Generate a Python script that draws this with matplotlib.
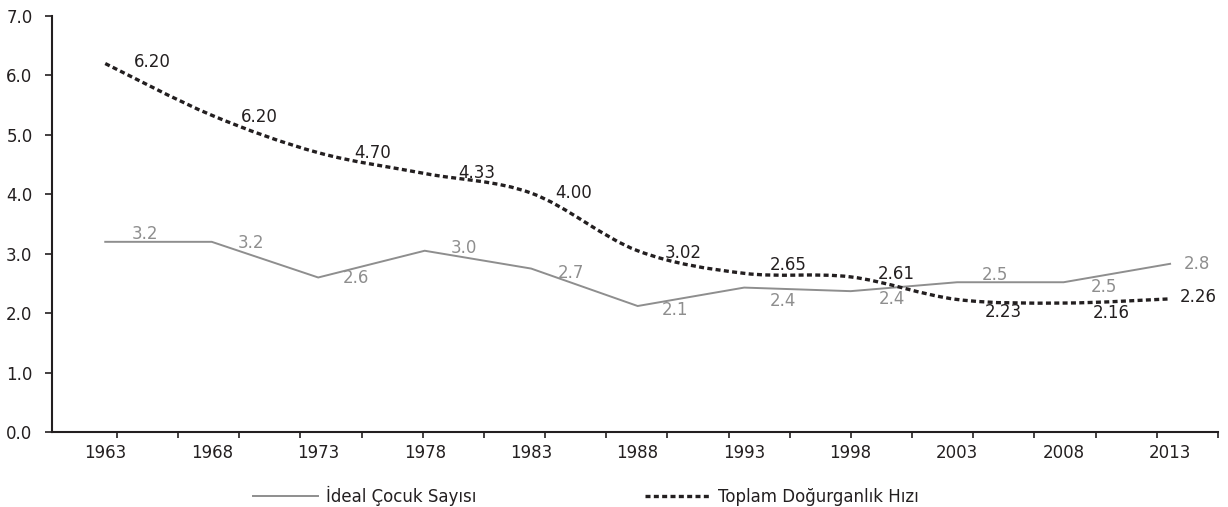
import numpy as np
import matplotlib
matplotlib.use("Agg")
import matplotlib.pyplot as plt
from matplotlib.path import Path
import matplotlib.patches as mpatches

years = [1963, 1968, 1973, 1978, 1983, 1988, 1993, 1998, 2003, 2008, 2013]
ideal = [3.2, 3.2, 2.6, 3.05, 2.75, 2.12, 2.43, 2.37, 2.52, 2.52, 2.83]
ideal_lbl = ["3.2", "3.2", "2.6", "3.0", "2.7", "2.1", "2.4", "2.4", "2.5", "2.5", "2.8"]
tfr = [6.2, 5.33, 4.7, 4.35, 4.02, 3.05, 2.67, 2.61, 2.23, 2.17, 2.24]
tfr_lbl = ["6.20", "6.20", "4.70", "4.33", "4.00", "3.02", "2.65", "2.61", "2.23", "2.16", "2.26"]

# label offsets in pixels (layout only)
ideal_off = [(40, 8), (39, -1), (38, -1), (39, 3), (40, -4), (37, -4),
             (39, -13), (41, -8), (38, 7), (40, -5), (27, 0)]
tfr_off = [(47, 2), (48, -2), (54, 0), (52, 0), (42, 0), (46, -2),
           (44, 8), (46, 3), (46, -13), (48, -10), (28, 2)]

GREY = "#8e8e8e"
DARK = "#231f20"
FS = 12

plt.rcParams["font.family"] = "DejaVu Sans"

fig = plt.figure(figsize=(12.28, 5.07), dpi=100)
ax = fig.add_axes([52/1228, 1-432/507, (1218-52)/1228, (432-16)/507])

xmin, xmax = 1960.5, 2015.25
ax.set_xlim(xmin, xmax)
ax.set_ylim(0, 7)

# grey solid line
ax.plot(years, ideal, color=GREY, lw=1.4, solid_joinstyle="miter",
        label="İdeal Çocuk Sayısı", zorder=3)

# smoothed dashed line (Catmull-Rom -> cubic bezier)
pts = np.column_stack([years, tfr]).astype(float)
ext = np.vstack([pts[0], pts, pts[-1]])
verts = [tuple(pts[0])]
codes = [Path.MOVETO]
for i in range(len(pts) - 1):
    p0, p1, p2, p3 = ext[i], ext[i+1], ext[i+2], ext[i+3]
    c1 = p1 + (p2 - p0) / 6
    c2 = p2 - (p3 - p1) / 6
    verts += [tuple(c1), tuple(c2), tuple(p2)]
    codes += [Path.CURVE4] * 3
patch = mpatches.PathPatch(Path(verts, codes), facecolor="none", edgecolor=DARK,
                           lw=2.4, linestyle=(0, (1.5, 1.0)), capstyle="butt", zorder=4)
ax.add_patch(patch)
ax.plot([], [], color=DARK, lw=2.4, dashes=(1.5, 1.0),
        label="Toplam Doğurganlık Hızı")

for x, y, t, o in zip(years, ideal, ideal_lbl, ideal_off):
    ax.annotate(t, (x, y), xytext=o, textcoords="offset pixels",
                ha="center", va="center", color=GREY, fontsize=FS, zorder=5)
for x, y, t, o in zip(years, tfr, tfr_lbl, tfr_off):
    ax.annotate(t, (x, y), xytext=o, textcoords="offset pixels",
                ha="center", va="center", color=DARK, fontsize=FS, zorder=5)

# axes styling
for s in ["top", "right"]:
    ax.spines[s].set_visible(False)
for s in ["left", "bottom"]:
    ax.spines[s].set_color(DARK)
    ax.spines[s].set_linewidth(1.5)

ax.set_yticks(np.arange(0, 7.01, 1))
ax.set_yticklabels([f"{v:.1f}" for v in np.arange(0, 7.01, 1)])
ax.tick_params(axis="y", length=5, width=1.2, color=DARK, labelsize=FS,
               labelcolor=DARK, pad=9)

ax.set_xticks(years)
ax.set_xticklabels([str(y) for y in years])
ax.tick_params(axis="x", which="major", length=0, labelsize=FS,
               labelcolor=DARK, pad=9)
span = xmax - xmin
ax.set_xticks(np.linspace(xmin + span * 65 / 1166, xmax, 19), minor=True)
ax.tick_params(axis="x", which="minor", length=4, width=1.2, color=DARK)

fig.legend(loc="center left", bbox_to_anchor=(253/1228, 1-496/507),
           frameon=False, ncol=2, fontsize=FS, borderpad=0, borderaxespad=0,
           handlelength=3.9, handletextpad=0.5, columnspacing=10.1,
           labelcolor=DARK)

fig.savefig("out.png", dpi=100, facecolor="white")
